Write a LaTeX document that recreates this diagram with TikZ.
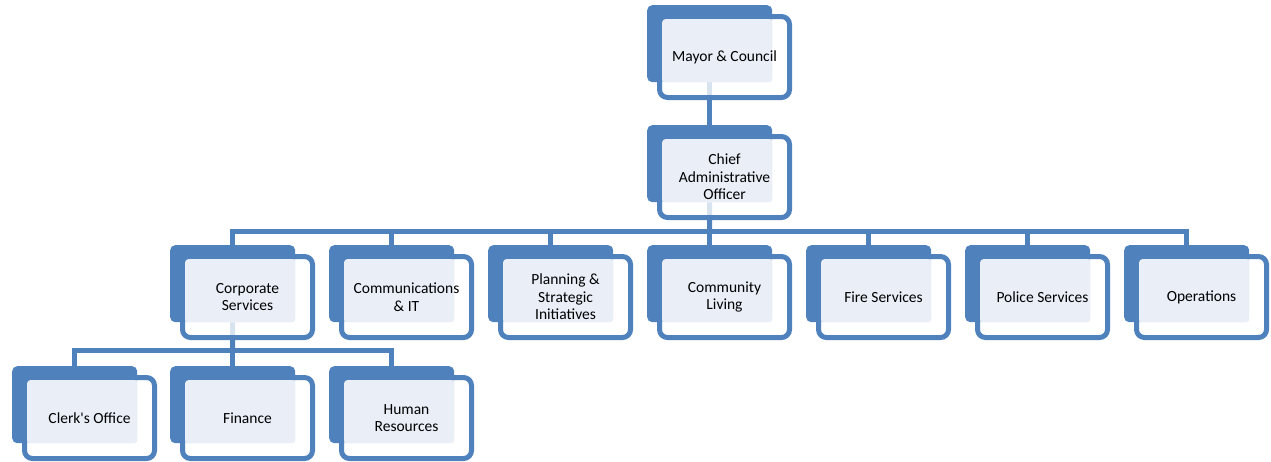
\documentclass[tikz,border=0pt]{standalone}
\usepackage{fontspec}
\setmainfont{Carlito}
\definecolor{obl}{HTML}{4F81BD}
\definecolor{olt}{HTML}{E9EEF7}
\pgfdeclarelayer{bg}
\pgfsetlayers{bg,main}
\tikzset{
 backbox/.style={fill=obl, rounded corners=5pt, minimum width=125pt, minimum height=77pt, inner sep=0pt, anchor=north west},
 frontbox/.style={draw=obl, line width=5pt, fill=white, fill opacity=0.78, draw opacity=1, rounded corners=8pt, minimum width=130pt, minimum height=81pt, inner sep=0pt},
 lightbox/.style={fill=olt, rounded corners=3pt, minimum width=110pt, minimum height=63pt, inner sep=0pt, anchor=north west},
 boxtext/.style={font=\fontsize{15.5}{17.5}\selectfont, align=center, text=black, inner sep=0pt},
 conn/.style={draw=obl, line width=5pt},
}
\newcommand\orgunit[4]{%
 \node[backbox] (#1) at (#2,-#3) {};
 \node[frontbox] (#1F) at ([xshift=77.5pt,yshift=-52pt]#1.north west) {};
 \node[lightbox] (#1L) at ([xshift=15pt,yshift=-14pt]#1.north west) {};
 \node[boxtext] (#1T) at (#1F.center) {#4};
}
\begin{document}
\begin{tikzpicture}[x=1pt,y=1pt]
\useasboundingbox (0,0) rectangle (1271,-461);
\orgunit{mayor}{647}{5}{Mayor \& Council}
\orgunit{cao}{647}{125}{Chief\\Administrative\\Officer}
\orgunit{corp}{170}{245}{Corporate\\Services}
\orgunit{comm}{329}{245}{Communications\\\& IT}
\orgunit{plan}{488}{245}{Planning \&\\Strategic\\Initiatives}
\orgunit{cliv}{647}{245}{Community\\Living}
\orgunit{fire}{806}{245}{Fire Services}
\orgunit{police}{965}{245}{Police Services}
\orgunit{ops}{1124}{245}{Operations}
\orgunit{clerk}{12}{366}{Clerk\textquotesingle s Office}
\orgunit{fin}{170}{366}{Finance}
\orgunit{hr}{329}{366}{Human\\Resources}
\begin{pgfonlayer}{bg}
\coordinate (busA) at (709.5,-231);
\coordinate (busB) at (232.5,-350);
\draw[conn] (mayor.south) -- (cao.north);
\draw[conn] (cao.south) -- (busA);
\draw[conn] (corp.north) |- (busA) -| (ops.north);
\foreach \n in {comm,plan,cliv,fire,police}{
 \draw[conn] (\n.north) -- (\n.north |- busA);
}
\draw[conn] (corp.south) -- (busB);
\draw[conn] (clerk.north) |- (busB) -| (hr.north);
\draw[conn] (fin.north) -- (fin.north |- busB);
\end{pgfonlayer}
\end{tikzpicture}
\end{document}
